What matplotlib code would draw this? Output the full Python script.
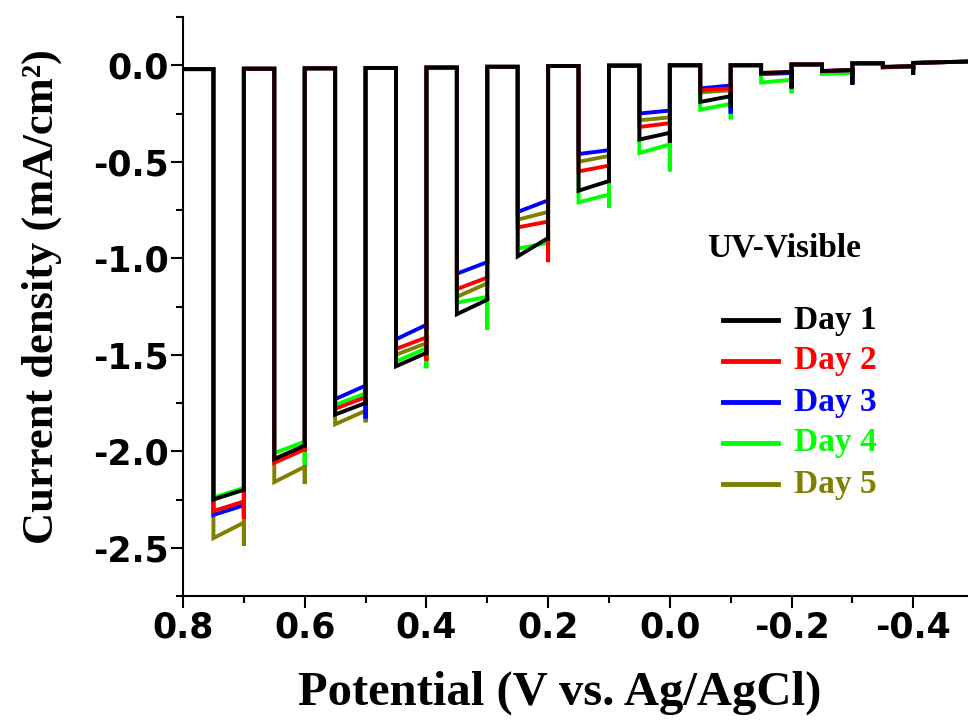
import matplotlib
matplotlib.use("Agg")
import matplotlib.pyplot as plt
from matplotlib.lines import Line2D

# light-on windows: illumination starts at each of these potentials, lasts 0.05 V
pulse_on = [0.75, 0.65, 0.55, 0.45, 0.35, 0.25, 0.15, 0.05, -0.05, -0.15, -0.25, -0.35]
pulse_len = 0.05

# dark current level for each dark stretch (before, between and after the pulses)
dark_start = [-0.02, -0.018, -0.016, -0.014, -0.012, -0.008, -0.004, -0.002, 0.0, 0.0, 0.004, 0.01, 0.012]
dark_stop = [-0.02, -0.018, -0.016, -0.014, -0.012, -0.008, -0.004, -0.002, 0.0, 0.0, 0.004, 0.01, 0.02]
scan_start, scan_stop = 0.80, -0.50

days = ["Day 1", "Day 2", "Day 3", "Day 4", "Day 5"]
colors = ["#000000", "#ff0000", "#0000ff", "#00ff00", "#808000"]

# photocurrent at light on, just before light off, and off-transient spike (mA/cm2)
on_current = {
    "Day 1": [-2.25, -2.04, -1.81, -1.56, -1.29, -0.99, -0.65, -0.385, -0.19, -0.04, -0.03, -0.008],
    "Day 2": [-2.31, -2.06, -1.78, -1.47, -1.16, -0.84, -0.55, -0.32, -0.13, -0.04, -0.03, -0.01],
    "Day 3": [-2.33, -2.05, -1.73, -1.42, -1.08, -0.76, -0.46, -0.25, -0.12, -0.045, -0.03, -0.01],
    "Day 4": [-2.24, -2.01, -1.76, -1.535, -1.23, -0.95, -0.71, -0.455, -0.23, -0.09, -0.045, -0.012],
    "Day 5": [-2.45, -2.16, -1.86, -1.50, -1.20, -0.80, -0.50, -0.285, -0.14, -0.045, -0.035, -0.01],
}
off_current = {
    "Day 1": [-2.20, -1.97, -1.75, -1.49, -1.215, -0.895, -0.60, -0.35, -0.16, -0.035, -0.025, -0.005],
    "Day 2": [-2.26, -1.99, -1.72, -1.41, -1.10, -0.81, -0.52, -0.30, -0.12, -0.035, -0.025, -0.005],
    "Day 3": [-2.28, -1.98, -1.66, -1.345, -1.02, -0.70, -0.44, -0.235, -0.105, -0.04, -0.025, -0.005],
    "Day 4": [-2.19, -1.95, -1.70, -1.466, -1.20, -0.92, -0.67, -0.41, -0.20, -0.075, -0.04, -0.008],
    "Day 5": [-2.37, -2.08, -1.79, -1.44, -1.13, -0.76, -0.47, -0.27, -0.13, -0.04, -0.03, -0.005],
}
spike_current = {
    "Day 1": [-2.21, -1.98, -1.76, -1.50, -1.22, -0.91, -0.61, -0.40, -0.22, -0.12, -0.10, -0.05],
    "Day 2": [-2.35, -2.00, -1.73, -1.53, -1.11, -1.02, -0.53, -0.31, -0.15, -0.06, -0.04, -0.02],
    "Day 3": [-2.34, -2.00, -1.83, -1.37, -1.03, -0.71, -0.45, -0.24, -0.25, -0.06, -0.10, -0.02],
    "Day 4": [-2.31, -2.07, -1.72, -1.57, -1.37, -0.93, -0.74, -0.55, -0.28, -0.145, -0.06, -0.03],
    "Day 5": [-2.49, -2.17, -1.85, -1.47, -1.14, -0.77, -0.48, -0.28, -0.15, -0.06, -0.05, -0.02],
}

plt.rcParams["font.family"] = ["DejaVu Sans"]

fig = plt.figure(figsize=(9.68, 7.25), dpi=100)
ax = fig.add_axes([183 / 968, 129 / 725, 785 / 968, 579 / 725])


def chopped_trace(day):
    xs = [scan_start, pulse_on[0]]
    ys = [dark_start[0], dark_stop[0]]
    for k, v0 in enumerate(pulse_on):
        v1 = v0 - pulse_len
        xs += [v0, v1, v1]
        ys += [on_current[day][k], off_current[day][k], spike_current[day][k]]
        nxt = pulse_on[k + 1] if k + 1 < len(pulse_on) else scan_stop
        xs += [v1, nxt]
        ys += [dark_start[k + 1], dark_stop[k + 1]]
    return xs, ys


# draw Day 5 first so Day 1 (black) sits on top
for day, c in list(zip(days, colors))[::-1]:
    xs, ys = chopped_trace(day)
    ax.plot(xs, ys, color=c, lw=2.8, solid_joinstyle="miter")

ax.set_xlim(0.80, -0.49)
ax.set_ylim(-2.75, 0.25)
ax.set_xticks([0.8, 0.6, 0.4, 0.2, 0.0, -0.2, -0.4])
ax.set_xticks([0.7, 0.5, 0.3, 0.1, -0.1, -0.3], minor=True)
ax.set_yticks([0.0, -0.5, -1.0, -1.5, -2.0, -2.5])
ax.set_yticks([0.25, -0.25, -0.75, -1.25, -1.75, -2.25, -2.75], minor=True)
ax.set_xticklabels(["0.8", "0.6", "0.4", "0.2", "0.0", "-0.2", "-0.4"])
ax.set_yticklabels(["0.0", "-0.5", "-1.0", "-1.5", "-2.0", "-2.5"])

for s in ["top", "right"]:
    ax.spines[s].set_visible(False)
for s in ["left", "bottom"]:
    ax.spines[s].set_linewidth(1.5)

ax.tick_params(which="major", length=8.5, width=1.5, direction="out",
               labelsize=25, pad=2)
ax.tick_params(which="minor", length=5, width=1.5, direction="out")
for lab in ax.get_xticklabels() + ax.get_yticklabels():
    lab.set_fontweight("bold")

fig.text(42 / 968, 1 - 297 / 725, "Current density (mA/cm²)", rotation=90,
         ha="center", va="center", fontsize=32, fontweight="bold",
         family="Liberation Serif")
fig.text(560 / 968, 1 - 693 / 725, "Potential (V vs. Ag/AgCl)",
         ha="center", va="center", fontsize=35, fontweight="bold",
         family="Liberation Serif")

# legend drawn by hand to follow the original layout
fig.text(707 / 968, 1 - 248 / 725, "UV-Visible", ha="left", va="center",
         fontsize=24, fontweight="bold", family="Liberation Serif")
legend_y = [320, 361, 402, 443, 484]
for day, c, y in zip(days, colors, legend_y):
    fy = 1 - y / 725
    fig.add_artist(Line2D([723 / 968, 778 / 968], [fy, fy], color=c, lw=3.5))
    fig.text(794 / 968, fy, day, ha="left", va="center", color=c,
             fontsize=24, fontweight="bold", family="Liberation Serif")

fig.savefig("out.png", dpi=100)
